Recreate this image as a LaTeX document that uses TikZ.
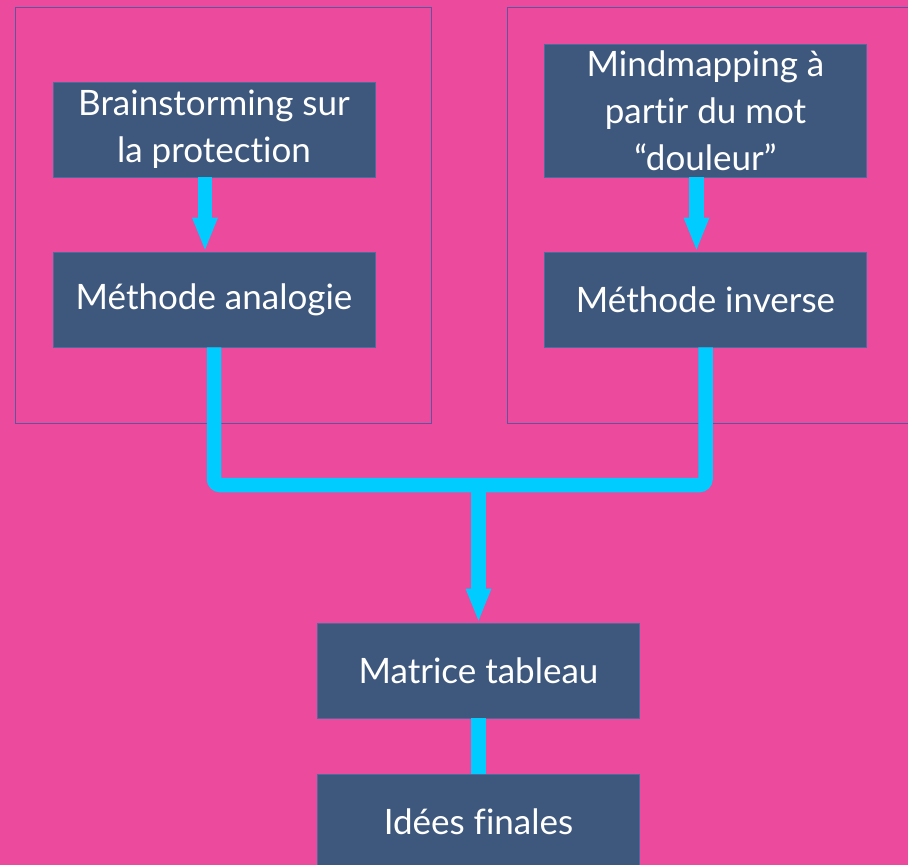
\documentclass[tikz,border=0pt]{standalone}
\usepackage{fontspec}
\setmainfont{Lato}[Ligatures={NoCommon}]
\usetikzlibrary{arrows.meta}
\definecolor{bgpink}{HTML}{EC4A9C}
\definecolor{boxblue}{HTML}{3E587D}
\definecolor{boxedge}{HTML}{4C6CA0}
\definecolor{frameedge}{HTML}{5E55A0}
\definecolor{flow}{HTML}{00CCFF}
\tikzset{
  stepbox/.style={rectangle, fill=boxblue, draw=boxedge, line width=0.8pt,
    minimum width=322pt, minimum height=95pt, inner sep=0pt, align=center,
    text=white, font=\fontsize{35}{47}\selectfont},
  groupframe/.style={draw=frameedge, line width=1pt},
  flowline/.style={draw=flow, line width=14.5pt},
  flowarrow/.style={flowline, -{Triangle[width=23pt,length=34pt]}},
}
\begin{document}
\begin{tikzpicture}[x=1pt,y=-1pt]
\useasboundingbox (0,0) rectangle (908,865);
\clip (0,0) rectangle (908,865);
\fill[bgpink] (0,0) rectangle (908,865);
\draw[groupframe] (15.5,7.5) rectangle (431.5,423);
\draw[groupframe] (507.5,7.5) rectangle (923.5,423);

\node[stepbox] (brain) at (214,129.5) {Brainstorming sur\\la protection};
\node[stepbox] (analogie) at (214,299.5) {Méthode analogie};
\node[stepbox, minimum height=133pt] (mind) at (705.5,110.5) {Mindmapping à\\partir du mot\\“douleur”};
\node[stepbox] (inverse) at (705.5,299.5) {Méthode inverse};
\node[stepbox] (matrice) at (478.5,670.5) {Matrice tableau};
\node[stepbox] (idees) at (478.5,821.5) {Idées finales};

\coordinate (junction) at (478.5,485);

\draw[flowarrow] ([xshift=-9pt]brain.south) -- ([xshift=-9pt]analogie.north);
\draw[flowarrow] ([xshift=-9pt]mind.south) -- ([xshift=-9pt]inverse.north);
\draw[flowline, rounded corners=6pt] (analogie.south) -- (analogie.south |- junction) -- (inverse.south |- junction) -- (inverse.south);
\draw[flowarrow] (junction) -- (matrice.north);
\draw[flowline] (matrice.south) -- (idees.north);
\end{tikzpicture}
\end{document}
